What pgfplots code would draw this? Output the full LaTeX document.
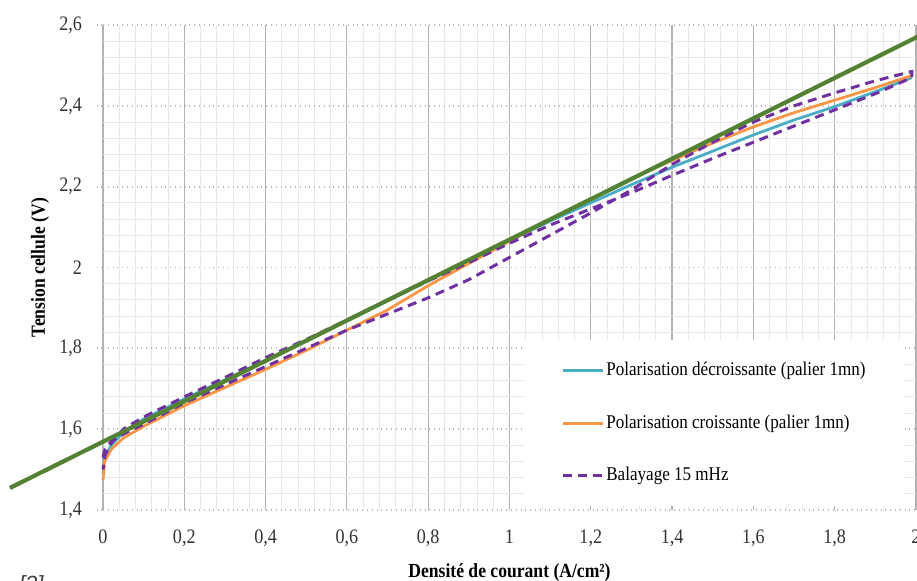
\documentclass[border=0pt]{standalone}
\usepackage{fontspec}
\setmainfont{Liberation Serif}[FakeStretch=0.88]
\setsansfont{Liberation Sans}
\usepackage{pgfplots}
\pgfplotsset{compat=1.18}
\definecolor{cblue}{HTML}{4BACC6}
\definecolor{corange}{HTML}{F79646}
\definecolor{cpurple}{HTML}{7030A0}
\definecolor{cgreen}{HTML}{548235}
\begin{document}
\begin{tikzpicture}
\begin{axis}[
  at={(0,0)}, anchor=south west,
  scale only axis, width=406.5pt, height=242.5pt,
  xmin=0, xmax=2, ymin=1.4, ymax=2.6,
  xtick={0,0.2,...,2.01}, ytick={1.4,1.6,...,2.61},
  minor x tick num=4, minor y tick num=4,
  clip=false,
  axis line style={draw=none},
  grid=both,
  major x grid style={gray!60, line width=0.6pt},
  major y grid style={gray!55, dotted, line width=0.9pt},
  minor grid style={gray!18, line width=0.4pt},
  tick align=outside,
  xtick style={draw=none},
  minor tick style={draw=none},
  ytick style={gray!55, dotted, line width=0.9pt},
  major tick length=3pt,
  /pgf/number format/assume math mode=true,
  /pgf/number format/use comma,
  ticklabel style={font=\fontsize{10.3}{12}\selectfont, text=black!80},
  yticklabel style={xshift=-4pt},
  xticklabel style={yshift=-3.5pt},
  xlabel={Densité de courant (A/cm²)},
  ylabel={Tension cellule (V)},
  label style={font=\fontsize{10}{12}\selectfont\bfseries},
  xlabel style={at={(axis description cs:0.5,-0.13)}, anchor=center},
  ylabel style={at={(axis description cs:-0.0775,0.5)}, anchor=center},
  legend cell align=left,
  legend style={at={(rel axis cs:0.519,0.3505)}, anchor=north west,
    draw=none, fill=white, inner xsep=18pt, inner ysep=9pt,
    row sep=14pt, font=\fontsize{9.7}{11}\selectfont,
    nodes={inner xsep=1pt}},
  legend image code/.code={\draw[#1] (0pt,0pt) -- (20pt,0pt);},
]
\addplot[cblue, line width=1.4pt] coordinates {
(0,1.49)(0.004,1.53)(0.02,1.56)(0.05,1.592)(0.1,1.625)(0.2,1.675)(0.3,1.722)
(0.4,1.77)(0.5,1.818)(0.6,1.868)(0.7,1.918)(0.8,1.968)(0.9,2.018)(1.0,2.066)
(1.1,2.115)(1.2,2.16)(1.3,2.205)(1.4,2.248)(1.5,2.288)(1.6,2.328)(1.7,2.365)
(1.8,2.398)(1.9,2.435)(1.99,2.47)};
\addlegendentry{Polarisation décroissante (palier 1mn)}
\addplot[corange, line width=1.4pt] coordinates {
(0,1.474)(0.004,1.52)(0.02,1.55)(0.05,1.578)(0.1,1.607)(0.2,1.658)(0.3,1.703)
(0.4,1.748)(0.5,1.795)(0.6,1.845)(0.7,1.895)(0.8,1.955)(0.9,2.01)(1.0,2.065)
(1.1,2.12)(1.2,2.17)(1.3,2.22)(1.4,2.265)(1.5,2.308)(1.6,2.348)(1.7,2.383)
(1.8,2.414)(1.9,2.445)(1.99,2.475)};
\addlegendentry{Polarisation croissante (palier 1mn)}
\addplot[cpurple, line width=1.5pt, dash pattern=on 4.5pt off 3pt] coordinates {
(0,1.53)(0.005,1.55)(0.02,1.57)(0.05,1.588)(0.1,1.612)(0.2,1.665)(0.3,1.71)
(0.4,1.755)(0.5,1.80)(0.6,1.845)(0.7,1.885)(0.8,1.925)(0.9,1.97)(1.0,2.025)
(1.1,2.08)(1.2,2.135)(1.3,2.192)(1.4,2.255)(1.5,2.31)(1.6,2.36)(1.7,2.40)
(1.8,2.432)(1.9,2.462)(1.99,2.485)
(1.99,2.47)(1.9,2.43)(1.8,2.39)(1.7,2.35)(1.6,2.31)(1.5,2.27)(1.4,2.228)
(1.3,2.185)(1.2,2.145)(1.1,2.105)(1.0,2.06)(0.9,2.012)(0.8,1.967)(0.7,1.918)
(0.6,1.87)(0.5,1.822)(0.4,1.777)(0.3,1.728)(0.2,1.68)(0.1,1.63)(0.05,1.60)
(0.02,1.565)(0.005,1.535)(0,1.5)};
\addlegendentry{Balayage 15 mHz}
\addplot[cgreen, line width=2.1pt, forget plot] coordinates {(-0.229,1.4545)(2.01,2.574)};
\end{axis}
\node[anchor=north west, font=\sffamily\itshape\fontsize{11}{13}\selectfont, text=black!75] at (-45.5pt,-29pt) {[3]};
\pgfresetboundingbox
\path[use as bounding box] (-51.5pt,-35pt) rectangle (407pt,255pt);
\end{tikzpicture}
\end{document}
